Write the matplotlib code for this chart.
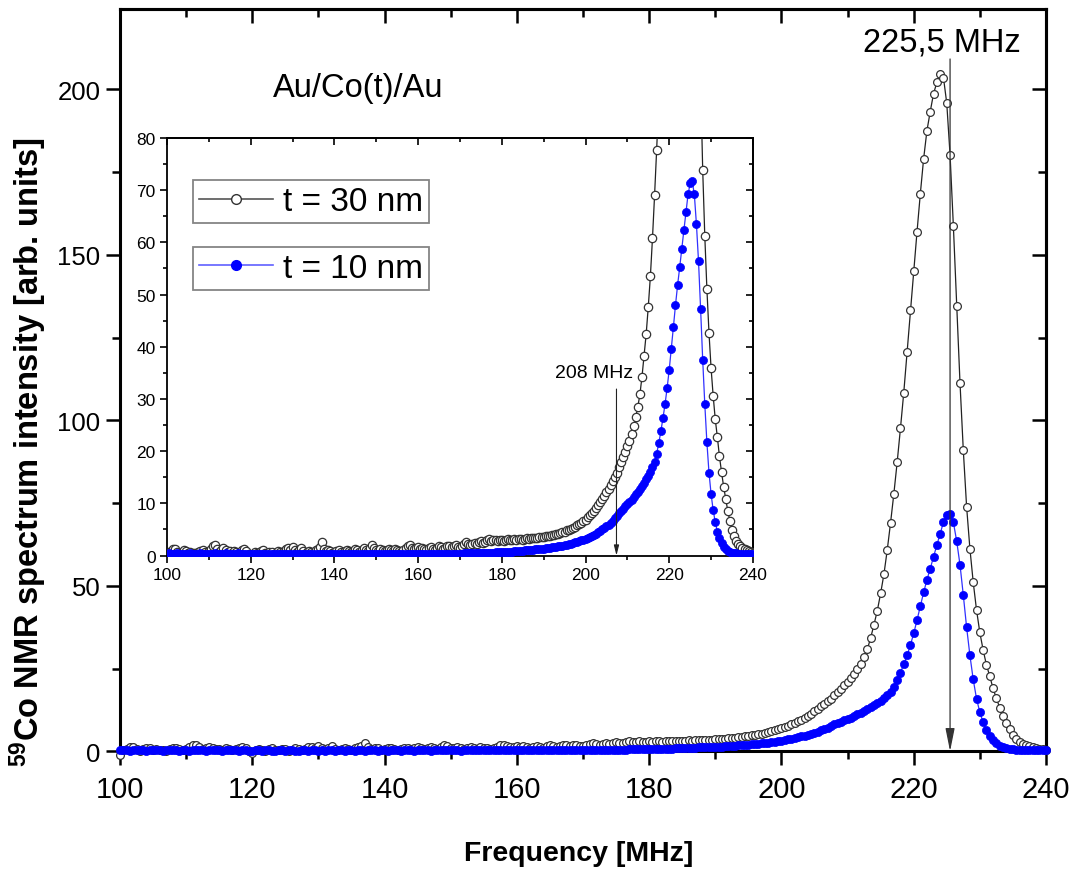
# 59Co NMR spectra of Au/Co(t)/Au, main plot + zoomed inset

import numpy as np
import matplotlib
matplotlib.use('Agg')
import matplotlib.pyplot as plt
from matplotlib.ticker import MultipleLocator
from matplotlib.lines import Line2D

'''
    Data (read off the picture, 0.5 MHz step)
'''

freq = np.arange(100.0, 240.25, 0.5)

t30_intensity = [
    -1.2, 0.3, 0.8, 1.2, 1.3, 0.6, 0.2, 0.7, 1.0, 0.9, 0.4, 0.6, 0.3, 0.5, 0.2, 0.6, 0.9, 1.0, 0.7, 0.4,          # 100
    0.8, 1.2, 1.8, 2.0, 1.3, 0.7, 1.1, 1.4, 1.0, 0.6, 0.8, 0.5, 0.9, 0.6, 0.3, 0.7, 1.1, 1.3, 0.9, 0.2,          # 110
    -0.5, 0.3, 0.6, 0.4, 0.2, 0.8, 1.0, 0.5, 0.3, 0.7, 0.6, 0.2, 0.5, 0.9, 0.6, 0.4, 0.8, 1.2, 1.4, 1.0,         # 120
    1.6, 1.1, 0.6, 1.0, 1.5, 0.8, 0.3, 0.6, 0.9, 0.7, 0.5, 1.0, 1.2, 1.6, 2.5, 1.3, 0.8, 1.1, 0.9, 0.5,          # 130
    0.6, 0.9, 1.0, 0.7, 0.4, 0.8, 1.1, 0.9, 0.6, 0.9, 1.2, 1.0, 0.7, 1.1, 1.4, 1.0, 0.8, 1.4, 2.0, 1.5,          # 140
    1.1, 0.9, 1.2, 1.0, 0.8, 1.1, 1.3, 1.0, 0.8, 1.2, 1.1, 0.9, 0.7, 1.0, 1.4, 1.9, 2.0, 1.5, 1.2, 1.4,          # 150
    1.6, 1.3, 1.5, 1.2, 1.0, 1.4, 1.6, 1.3, 1.1, 1.5, 1.9, 1.6, 1.3, 1.5, 1.8, 1.9, 1.6, 1.8, 2.0, 1.7,          # 160
    1.5, 1.9, 2.2, 2.5, 2.3, 2.0, 2.2, 2.4, 2.3, 2.5, 2.7, 2.4, 2.6, 2.9, 3.1, 2.8, 2.9, 3.0, 2.8, 2.9,          # 170
    3.0, 2.8, 3.0, 3.1, 2.9, 3.0, 3.2, 3.0, 3.1, 3.2, 3.0, 3.2, 3.3, 3.1, 3.3, 3.4, 3.3, 3.4, 3.5, 3.5,          # 180
    3.6, 3.7, 3.8, 3.8, 3.9, 4.0, 4.1, 4.2, 4.3, 4.5, 4.6, 4.8, 4.9, 5.1, 5.3, 5.5, 5.8, 6.0, 6.3, 6.6,          # 190
    6.9, 7.3, 7.7, 8.1, 8.6, 9.1, 9.6, 10.2, 10.8, 11.4, 12.1, 12.8, 13.6, 14.3, 15.1, 15.9, 17.0, 17.9, 18.9, 19.9,   # 200
    20.9, 22.0, 23.3, 24.8, 26.5, 28.5, 30.9, 34.3, 38.3, 42.5, 47.7, 53.5, 60.8, 69.0, 77.8, 87.3, 97.6, 108.4, 120.6, 133.2,  # 210
    145.1, 156.9, 168.4, 179.0, 187.5, 193.3, 198.7, 202.1, 204.8, 203.6, 195.8, 180.2, 158.7, 134.7, 111.4, 91.0, 73.9, 61.2, 51.1, 42.7,  # 220
    35.9, 30.6, 26.1, 22.7, 19.0, 16.0, 13.2, 10.8, 8.5, 6.6, 4.9, 3.7, 2.7, 2.2, 1.8, 1.5, 1.2, 1.0, 0.8, 0.6, 0.5,  # 230
]

t10_intensity = [
    0.3, 0.4, 0.3, 0.2, 0.3, 0.4, 0.3, 0.3, 0.2, 0.3, 0.3, 0.4, 0.3, 0.2, 0.3, 0.3, 0.4, 0.3, 0.2, 0.3,   # 100
    0.3, 0.2, 0.3, 0.4, 0.3, 0.3, 0.2, 0.3, 0.4, 0.3, 0.3, 0.2, 0.3, 0.3, 0.4, 0.3, 0.2, 0.3, 0.3, 0.2,   # 110
    0.2, 0.3, 0.3, 0.2, 0.3, 0.3, 0.2, 0.2, 0.3, 0.3, 0.2, 0.3, 0.3, 0.2, 0.2, 0.3, 0.3, 0.2, 0.3, 0.3,   # 120
    0.2, 0.3, 0.2, 0.3, 0.3, 0.2, 0.3, 0.3, 0.2, 0.3, 0.3, 0.2, 0.3, 0.3, 0.2, 0.3, 0.3, 0.3, 0.2, 0.3,   # 130
    0.3, 0.2, 0.3, 0.3, 0.3, 0.2, 0.3, 0.3, 0.3, 0.2, 0.3, 0.3, 0.3, 0.3, 0.2, 0.3, 0.3, 0.3, 0.3, 0.3,   # 140
    0.3, 0.3, 0.3, 0.2, 0.3, 0.3, 0.3, 0.3, 0.3, 0.3, 0.3, 0.3, 0.3, 0.3, 0.3, 0.3, 0.3, 0.3, 0.3, 0.3,   # 150
    0.3, 0.3, 0.3, 0.3, 0.3, 0.3, 0.3, 0.3, 0.3, 0.3, 0.3, 0.3, 0.3, 0.3, 0.3, 0.35, 0.35, 0.35, 0.35, 0.35,   # 160
    0.35, 0.35, 0.4, 0.4, 0.4, 0.4, 0.4, 0.45, 0.45, 0.45, 0.5, 0.5, 0.5, 0.5, 0.55, 0.55, 0.55, 0.6, 0.6, 0.6,   # 170
    0.6, 0.65, 0.65, 0.7, 0.7, 0.75, 0.8, 0.8, 0.85, 0.9, 0.95, 1.0, 1.0, 1.05, 1.1, 1.15, 1.2, 1.2, 1.25, 1.3,   # 180
    1.3, 1.35, 1.4, 1.5, 1.55, 1.6, 1.7, 1.75, 1.85, 1.9, 2.0, 2.1, 2.2, 2.3, 2.4, 2.5, 2.6, 2.75, 2.9, 3.05,   # 190
    3.2, 3.4, 3.6, 3.8, 4.0, 4.2, 4.5, 4.7, 5.0, 5.3, 5.6, 5.9, 6.3, 6.7, 7.1, 7.6, 8.1, 8.6, 9.0, 9.4,   # 200
    9.8, 10.2, 10.7, 11.2, 11.7, 12.2, 12.7, 13.3, 13.9, 14.6, 15.3, 16.1, 16.9, 18.0, 19.5, 21.5, 23.8, 26.3, 29.0, 32.1,   # 210
    35.6, 39.6, 43.8, 48.0, 51.8, 55.2, 58.8, 62.3, 65.8, 69.2, 71.3, 71.7, 69.2, 63.5, 56.4, 47.2, 37.5, 29.0, 21.7, 15.9,   # 220
    11.8, 8.7, 6.4, 4.6, 3.3, 2.4, 1.7, 1.2, 0.9, 0.7, 0.55, 0.45, 0.4, 0.35, 0.3, 0.3, 0.3, 0.3, 0.3, 0.3, 0.3,   # 230
]

labels = ['t = 30 nm', 't = 10 nm']
peak_main = 225.5
peak_inset = 207.4

'''
    Fonts / figure
'''

plt.rcParams['font.family'] = ['Liberation Sans', 'DejaVu Sans']
plt.rcParams['mathtext.fontset'] = 'custom'
plt.rcParams['mathtext.rm'] = 'Liberation Sans'
plt.rcParams['mathtext.bf'] = 'Liberation Sans:bold'

fig = plt.figure(figsize=(10.75, 8.7), dpi=100)
ax = fig.add_axes([0.1116, 0.1353, 0.8614, 0.8532])


def draw_series(a, clip, ms_open, ms_full):
    a.plot(freq, t30_intensity, '-o', color='#222222', lw=0.9, ms=ms_open,
           mfc='white', mec='#333333', mew=0.9, clip_on=clip, label=labels[0], zorder=3)
    a.plot(freq, t10_intensity, '-o', color='#3030ff', lw=0.9, ms=ms_full,
           mfc='#0000ff', mec='#0000ff', mew=0.5, clip_on=clip, label=labels[1], zorder=4)


def mirror_ticks(a, xmaj, xmin, ymaj, ymin, lw, lmaj, lmin, spw):
    # top / right ticks point inward, no labels
    sx = a.secondary_xaxis('top')
    sx.xaxis.set_major_locator(MultipleLocator(xmaj))
    sx.xaxis.set_minor_locator(MultipleLocator(xmin))
    sx.tick_params(which='both', direction='in', width=lw, labeltop=False)
    sx.tick_params(which='major', length=lmaj)
    sx.tick_params(which='minor', length=lmin)
    sx.spines['top'].set_linewidth(spw)
    sy = a.secondary_yaxis('right')
    sy.yaxis.set_major_locator(MultipleLocator(ymaj))
    sy.yaxis.set_minor_locator(MultipleLocator(ymin))
    sy.tick_params(which='both', direction='in', width=lw, labelright=False)
    sy.tick_params(which='major', length=lmaj)
    sy.tick_params(which='minor', length=lmin)
    sy.spines['right'].set_linewidth(spw)


'''
    Main plot
'''

draw_series(ax, False, 5.6, 5.9)
ax.set_xlim(100, 240)
ax.set_ylim(0, 224.3)
ax.xaxis.set_major_locator(MultipleLocator(20))
ax.xaxis.set_minor_locator(MultipleLocator(10))
ax.yaxis.set_major_locator(MultipleLocator(50))
ax.yaxis.set_minor_locator(MultipleLocator(25))
for s in ax.spines.values():
    s.set_linewidth(2.2)
ax.tick_params(which='both', direction='out', width=1.8)
ax.tick_params(which='major', length=10)
ax.tick_params(which='minor', length=6)
ax.tick_params(axis='x', labelsize=21, pad=7)
ax.tick_params(axis='y', labelsize=18.5, pad=4)
mirror_ticks(ax, 20, 10, 50, 25, 1.8, 10, 6, 2.2)

fig.text(0.5386, 0.018, 'Frequency [MHz]', ha='center', va='center',
         fontsize=20.5, fontweight='bold')
fig.text(0.026, 0.48, r'$\mathbf{^{59}}$Co NMR spectrum intensity [arb. units]', rotation=90,
         ha='center', va='center', fontsize=23.5, fontweight='bold')

ax.text(123.1, 200.5, 'Au/Co(t)/Au', fontsize=23.5, ha='left', va='center')
ax.text(224.2, 214.4, '225,5 MHz', fontsize=23.5, ha='center', va='center')
ax.annotate('', xy=(peak_main, 0), xytext=(peak_main, 209.2),
            arrowprops=dict(arrowstyle='-|>,head_length=0.7,head_width=0.14', color='#333333',
                            lw=0.9, mutation_scale=20, shrinkA=0, shrinkB=0), zorder=6)

'''
    Inset
'''

axin = fig.add_axes([0.1553, 0.3603, 0.5451, 0.4799])
draw_series(axin, True, 6.0, 5.8)
axin.set_xlim(100, 240)
axin.set_ylim(0, 80)
axin.xaxis.set_major_locator(MultipleLocator(20))
axin.xaxis.set_minor_locator(MultipleLocator(10))
axin.yaxis.set_major_locator(MultipleLocator(10))
axin.yaxis.set_minor_locator(MultipleLocator(5))
for s in axin.spines.values():
    s.set_linewidth(1.3)
axin.tick_params(which='both', direction='out', width=1.2, labelsize=12.5, pad=3)
axin.tick_params(which='major', length=5)
axin.tick_params(which='minor', length=3)
mirror_ticks(axin, 20, 10, 10, 5, 1.2, 5, 3, 1.3)

axin.text(202.0, 35.0, '208 MHz', fontsize=14, ha='center', va='center')
axin.annotate('', xy=(peak_inset, 0), xytext=(peak_inset, 31.9),
              arrowprops=dict(arrowstyle='-|>,head_length=0.6,head_width=0.15', color='#222222',
                              lw=0.8, mutation_scale=10, shrinkA=0, shrinkB=0), zorder=6)

# two separate legend boxes, like the original
h30 = Line2D([], [], color='#555555', lw=1.2, marker='o', ms=7, mfc='white', mec='#333333', mew=1)
h10 = Line2D([], [], color='#6060ff', lw=1.2, marker='o', ms=7, mfc='#0000ff', mec='#0000ff')
leg_kw = dict(fontsize=24, frameon=True, fancybox=False, handlelength=2.2,
              handletextpad=0.3, borderpad=0.18, borderaxespad=0)
leg1 = axin.legend([h30], [labels[0]], loc='upper left', bbox_to_anchor=(0.045, 0.899), **leg_kw)
leg2 = axin.legend([h10], [labels[1]], loc='upper left', bbox_to_anchor=(0.045, 0.740), **leg_kw)
for lg in (leg1, leg2):
    lg.get_frame().set_edgecolor('#666666')
    lg.get_frame().set_linewidth(1.3)
axin.add_artist(leg1)

plt.savefig('out.png', dpi=100)
